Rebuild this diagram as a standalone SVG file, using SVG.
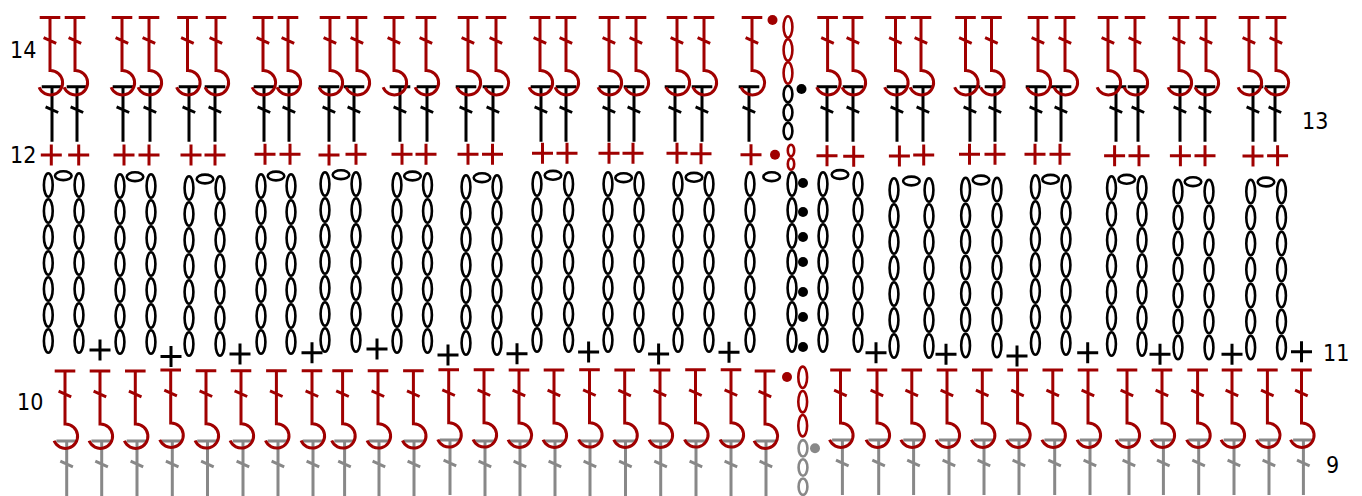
<svg xmlns="http://www.w3.org/2000/svg" width="1362" height="496" viewBox="0 0 1362 496">
<style>
.s{fill:none;stroke-width:3}
ellipse{stroke-width:2.6}
.r{stroke:#a00000}.k{stroke:#000}.g{stroke:#888}
.dr{fill:#a00000}.dk{fill:#000}.dg{fill:#888}
text{font-family:"DejaVu Sans",sans-serif;font-stretch:condensed;font-size:23px;fill:#000}
</style>
<defs>
<path id="t" d="M-10.3 0H10.3M0 0V55M-6.4 20.2L6.2 25.8"/>
<path id="h" d="M-10.3 0H10.3M0 0V53H.5A12.2 12.2 0 1 1-10.9 69.8M-6.4 20.2L6.2 25.8"/>
<path id="p" d="M-10.5 0H10.5M0-10.5V10.5"/>
<ellipse id="o" cx="0" cy="0" rx="8.3" ry="4.4"/>
<g id="ch">
<ellipse cx="0" cy="0" rx="4.4" ry="11.7"/><ellipse cx="0" cy="26" rx="4.4" ry="11.7"/><ellipse cx="0" cy="52" rx="4.4" ry="11.7"/><ellipse cx="0" cy="78" rx="4.4" ry="11.7"/><ellipse cx="0" cy="104" rx="4.4" ry="11.7"/><ellipse cx="0" cy="130" rx="4.4" ry="11.7"/><ellipse cx="0" cy="156" rx="4.4" ry="11.7"/>
</g>
</defs>
<g id="row9" class="s g">
<use href="#t" x="66.7" y="441"/><use href="#t" x="101.7" y="441"/><use href="#t" x="137" y="441"/><use href="#t" x="172.3" y="441"/><use href="#t" x="207.5" y="441"/><use href="#t" x="243" y="441"/><use href="#t" x="278" y="441"/><use href="#t" x="313" y="441"/><use href="#t" x="344.6" y="441"/><use href="#t" x="379" y="441"/><use href="#t" x="414" y="441"/><use href="#t" x="450" y="440"/><use href="#t" x="485" y="441"/><use href="#t" x="520" y="441"/><use href="#t" x="555" y="441"/><use href="#t" x="590" y="441"/><use href="#t" x="625.5" y="441"/><use href="#t" x="660.7" y="441"/><use href="#t" x="696" y="441"/><use href="#t" x="731" y="441"/><use href="#t" x="766" y="441"/>
<use href="#t" x="842.4" y="440"/><use href="#t" x="878.7" y="440"/><use href="#t" x="913.6" y="440"/><use href="#t" x="949" y="440"/><use href="#t" x="984" y="440"/><use href="#t" x="1019" y="440"/><use href="#t" x="1054.7" y="440"/><use href="#t" x="1090" y="440"/><use href="#t" x="1129" y="440"/><use href="#t" x="1163.4" y="440"/><use href="#t" x="1198.7" y="440"/><use href="#t" x="1234" y="440"/><use href="#t" x="1269" y="440"/><use href="#t" x="1303.4" y="440"/>
<ellipse cx="803" cy="448.3" rx="4.4" ry="8.2"/><ellipse cx="803" cy="467.5" rx="4.4" ry="8.2"/><ellipse cx="803" cy="486.7" rx="4.4" ry="8.2"/>
<circle class="dg" stroke="none" cx="815" cy="448.3" r="5"/>
</g>
<g id="row10" class="s r">
<use href="#h" x="65" y="371"/><use href="#h" x="100" y="371"/><use href="#h" x="135.3" y="371"/><use href="#h" x="170.7" y="370"/><use href="#h" x="206" y="370.7"/><use href="#h" x="241" y="370.7"/><use href="#h" x="276.4" y="370.7"/><use href="#h" x="312" y="370.7"/><use href="#h" x="342.6" y="370.7"/><use href="#h" x="378" y="370.7"/><use href="#h" x="413.4" y="370.7"/><use href="#h" x="448.7" y="369.7"/><use href="#h" x="484" y="369.7"/><use href="#h" x="519" y="370"/><use href="#h" x="554" y="370"/><use href="#h" x="589.5" y="369.7"/><use href="#h" x="624.7" y="370"/><use href="#h" x="660" y="370"/><use href="#h" x="695.5" y="369.7"/><use href="#h" x="731" y="369.7"/><use href="#h" x="765" y="371"/>
<use href="#h" x="840.5" y="370"/><use href="#h" x="877" y="370"/><use href="#h" x="911.8" y="370"/><use href="#h" x="947" y="370"/><use href="#h" x="982.3" y="370"/><use href="#h" x="1017.6" y="370"/><use href="#h" x="1052.8" y="370"/><use href="#h" x="1088" y="370"/><use href="#h" x="1127" y="370"/><use href="#h" x="1162" y="370"/><use href="#h" x="1197.6" y="370"/><use href="#h" x="1232" y="370"/><use href="#h" x="1267.4" y="370"/><use href="#h" x="1301.5" y="370"/>
<ellipse cx="802.7" cy="377.3" rx="4.4" ry="10.7"/><ellipse cx="802.7" cy="401.7" rx="4.4" ry="10.7"/><ellipse cx="802.7" cy="425.7" rx="4.4" ry="10.7"/>
<circle class="dr" stroke="none" cx="787" cy="377" r="5"/>
</g>
<g id="row11" class="s k">
<use href="#ch" x="48.3" y="185"/><use href="#ch" x="79" y="185"/><use href="#ch" x="120" y="186"/><use href="#ch" x="151" y="186"/><use href="#ch" x="189" y="188"/><use href="#ch" x="220" y="188"/><use href="#ch" x="261" y="186"/><use href="#ch" x="291" y="186"/><use href="#ch" x="325" y="184"/><use href="#ch" x="356" y="184"/><use href="#ch" x="397" y="185"/><use href="#ch" x="427.5" y="185"/><use href="#ch" x="466" y="187"/><use href="#ch" x="497" y="187"/><use href="#ch" x="537" y="184"/><use href="#ch" x="568.6" y="184"/><use href="#ch" x="608" y="184"/><use href="#ch" x="639" y="184"/><use href="#ch" x="678" y="184"/><use href="#ch" x="709" y="184"/><use href="#ch" x="750" y="184"/><use href="#ch" x="792" y="184"/><use href="#ch" x="823" y="184"/><use href="#ch" x="858" y="184"/><use href="#ch" x="894" y="190"/><use href="#ch" x="929" y="190"/><use href="#ch" x="965.6" y="189.5"/><use href="#ch" x="997" y="189.5"/><use href="#ch" x="1035.4" y="187"/><use href="#ch" x="1066" y="187"/><use href="#ch" x="1111.5" y="188"/><use href="#ch" x="1142" y="188"/><use href="#ch" x="1178" y="191.5"/><use href="#ch" x="1209" y="191.5"/><use href="#ch" x="1250.7" y="191.5"/><use href="#ch" x="1281.5" y="191.5"/>
<use href="#o" x="63.3" y="175.7"/><use href="#o" x="135" y="176.7"/><use href="#o" x="205" y="179"/><use href="#o" x="276" y="176"/><use href="#o" x="341" y="174.7"/><use href="#o" x="412.5" y="176"/><use href="#o" x="482" y="177.7"/><use href="#o" x="553" y="175.3"/><use href="#o" x="623.6" y="177.7"/><use href="#o" x="694" y="177.3"/><use href="#o" x="771.7" y="176.7"/><use href="#o" x="840" y="174.5"/><use href="#o" x="911.4" y="181"/><use href="#o" x="981" y="180"/><use href="#o" x="1050.6" y="179.3"/><use href="#o" x="1126.7" y="179.3"/><use href="#o" x="1193" y="181.7"/><use href="#o" x="1266" y="182"/>
<use href="#p" x="100" y="350"/><use href="#p" x="171" y="356.5"/><use href="#p" x="240" y="354"/><use href="#p" x="312" y="352.7"/><use href="#p" x="377" y="349"/><use href="#p" x="448" y="355"/><use href="#p" x="517" y="353.7"/><use href="#p" x="588.6" y="352"/><use href="#p" x="658.6" y="354"/><use href="#p" x="729" y="352.3"/><use href="#p" x="876" y="352.7"/><use href="#p" x="946" y="354.3"/><use href="#p" x="1017" y="356"/><use href="#p" x="1087.7" y="352.7"/><use href="#p" x="1160" y="354.3"/><use href="#p" x="1232" y="354.3"/><use href="#p" x="1301.5" y="351.7"/>
<g class="dk" stroke="none"><circle cx="803" cy="183" r="5"/><circle cx="803" cy="212" r="5"/><circle cx="803" cy="237" r="5"/><circle cx="803" cy="262" r="5"/><circle cx="803" cy="292" r="5"/><circle cx="803" cy="317" r="5"/><circle cx="803" cy="347" r="5"/></g>
</g>
<g id="row12" class="s r">
<use href="#p" x="51.3" y="155"/><use href="#p" x="78.7" y="155"/><use href="#p" x="124" y="155"/><use href="#p" x="149" y="155"/><use href="#p" x="191" y="155"/><use href="#p" x="215" y="155"/><use href="#p" x="265" y="154.3"/><use href="#p" x="290" y="154.3"/><use href="#p" x="329" y="155"/><use href="#p" x="356" y="154.3"/><use href="#p" x="402" y="154.3"/><use href="#p" x="426" y="154.3"/><use href="#p" x="468" y="154.3"/><use href="#p" x="492.5" y="154.3"/><use href="#p" x="542.5" y="153.3"/><use href="#p" x="567" y="153.3"/><use href="#p" x="609" y="153.3"/><use href="#p" x="633" y="153.3"/><use href="#p" x="677" y="153.3"/><use href="#p" x="701" y="153.7"/><use href="#p" x="751" y="154.7"/><use href="#p" x="827" y="155.7"/><use href="#p" x="853.7" y="156.3"/><use href="#p" x="899.4" y="156"/><use href="#p" x="923.7" y="155"/><use href="#p" x="969.5" y="154.3"/><use href="#p" x="995" y="154.3"/><use href="#p" x="1035" y="154.3"/><use href="#p" x="1060" y="154.3"/><use href="#p" x="1114.6" y="155.7"/><use href="#p" x="1139" y="155.7"/><use href="#p" x="1180.4" y="155.7"/><use href="#p" x="1205" y="155.7"/><use href="#p" x="1253" y="156"/><use href="#p" x="1277.6" y="155.7"/>
<ellipse cx="791" cy="150.5" rx="3.2" ry="5.8"/><ellipse cx="791" cy="164" rx="3.2" ry="5.8"/>
<circle class="dr" stroke="none" cx="775" cy="154.7" r="5"/>
</g>
<g id="row13" class="s k">
<use href="#t" x="52" y="86.7"/><use href="#t" x="77" y="86.7"/><use href="#t" x="123" y="86.7"/><use href="#t" x="150" y="86.7"/><use href="#t" x="189" y="86.7"/><use href="#t" x="215" y="86.7"/><use href="#t" x="264" y="86.7"/><use href="#t" x="289" y="86.7"/><use href="#t" x="329" y="86.7"/><use href="#t" x="354" y="86.7"/><use href="#t" x="400" y="86.7"/><use href="#t" x="427" y="86.7"/><use href="#t" x="466" y="86.7"/><use href="#t" x="493" y="86.7"/><use href="#t" x="541" y="86.7"/><use href="#t" x="566" y="86.7"/><use href="#t" x="609" y="86.7"/><use href="#t" x="634" y="86.7"/><use href="#t" x="675" y="86.7"/><use href="#t" x="702" y="86.7"/><use href="#t" x="749" y="86.7"/><use href="#t" x="827" y="86.7"/><use href="#t" x="853" y="86.7"/><use href="#t" x="897" y="86.7"/><use href="#t" x="923" y="86.7"/><use href="#t" x="970" y="86.7"/><use href="#t" x="995" y="86.7"/><use href="#t" x="1036" y="86.7"/><use href="#t" x="1061" y="86.7"/><use href="#t" x="1116" y="86.7"/><use href="#t" x="1138" y="86.7"/><use href="#t" x="1180" y="86.7"/><use href="#t" x="1205" y="86.7"/><use href="#t" x="1253" y="86.7"/><use href="#t" x="1275" y="86.7"/>
<ellipse cx="788" cy="94" rx="4.4" ry="8.2"/><ellipse cx="788" cy="112.5" rx="4.4" ry="8.2"/><ellipse cx="788" cy="131" rx="4.4" ry="8.2"/>
<circle class="dk" stroke="none" cx="801.5" cy="89" r="5"/>
</g>
<g id="row14" class="s r">
<use href="#h" x="50" y="17.5"/><use href="#h" x="75" y="17.5"/><use href="#h" x="122" y="17.5"/><use href="#h" x="149" y="17.5"/><use href="#h" x="187.5" y="17.5"/><use href="#h" x="216" y="17.5"/><use href="#h" x="263" y="17.5"/><use href="#h" x="288" y="17.5"/><use href="#h" x="330" y="17.5"/><use href="#h" x="357" y="17.5"/><use href="#h" x="394" y="17.5"/><use href="#h" x="426" y="17.5"/><use href="#h" x="468" y="17.5"/><use href="#h" x="496" y="17.5"/><use href="#h" x="540" y="17.5"/><use href="#h" x="566" y="17.5"/><use href="#h" x="609" y="17.5"/><use href="#h" x="636" y="17.5"/><use href="#h" x="677" y="17.5"/><use href="#h" x="704" y="17.5"/><use href="#h" x="752" y="17.5"/><use href="#h" x="827.6" y="17.5"/><use href="#h" x="853" y="17.5"/><use href="#h" x="895.5" y="17.5"/><use href="#h" x="921" y="17.5"/><use href="#h" x="965.5" y="17.5"/><use href="#h" x="991.5" y="17.5"/><use href="#h" x="1038" y="17.5"/><use href="#h" x="1065" y="17.5"/><use href="#h" x="1108" y="17.5"/><use href="#h" x="1135" y="17.5"/><use href="#h" x="1179" y="17.5"/><use href="#h" x="1206" y="17.5"/><use href="#h" x="1249" y="17.5"/><use href="#h" x="1276" y="17.5"/>
<ellipse cx="788" cy="27" rx="4.4" ry="10.7"/><ellipse cx="788" cy="50" rx="4.4" ry="10.7"/><ellipse cx="788" cy="73" rx="4.4" ry="10.7"/>
<circle class="dr" stroke="none" cx="772.5" cy="20" r="5"/>
</g>
<g id="labels">
<text x="10" y="58">14</text><text x="10" y="163">12</text><text x="1302" y="129">13</text><text x="17" y="410">10</text><text x="1323" y="361">11</text><text x="1326" y="473">9</text>
</g>
</svg>
